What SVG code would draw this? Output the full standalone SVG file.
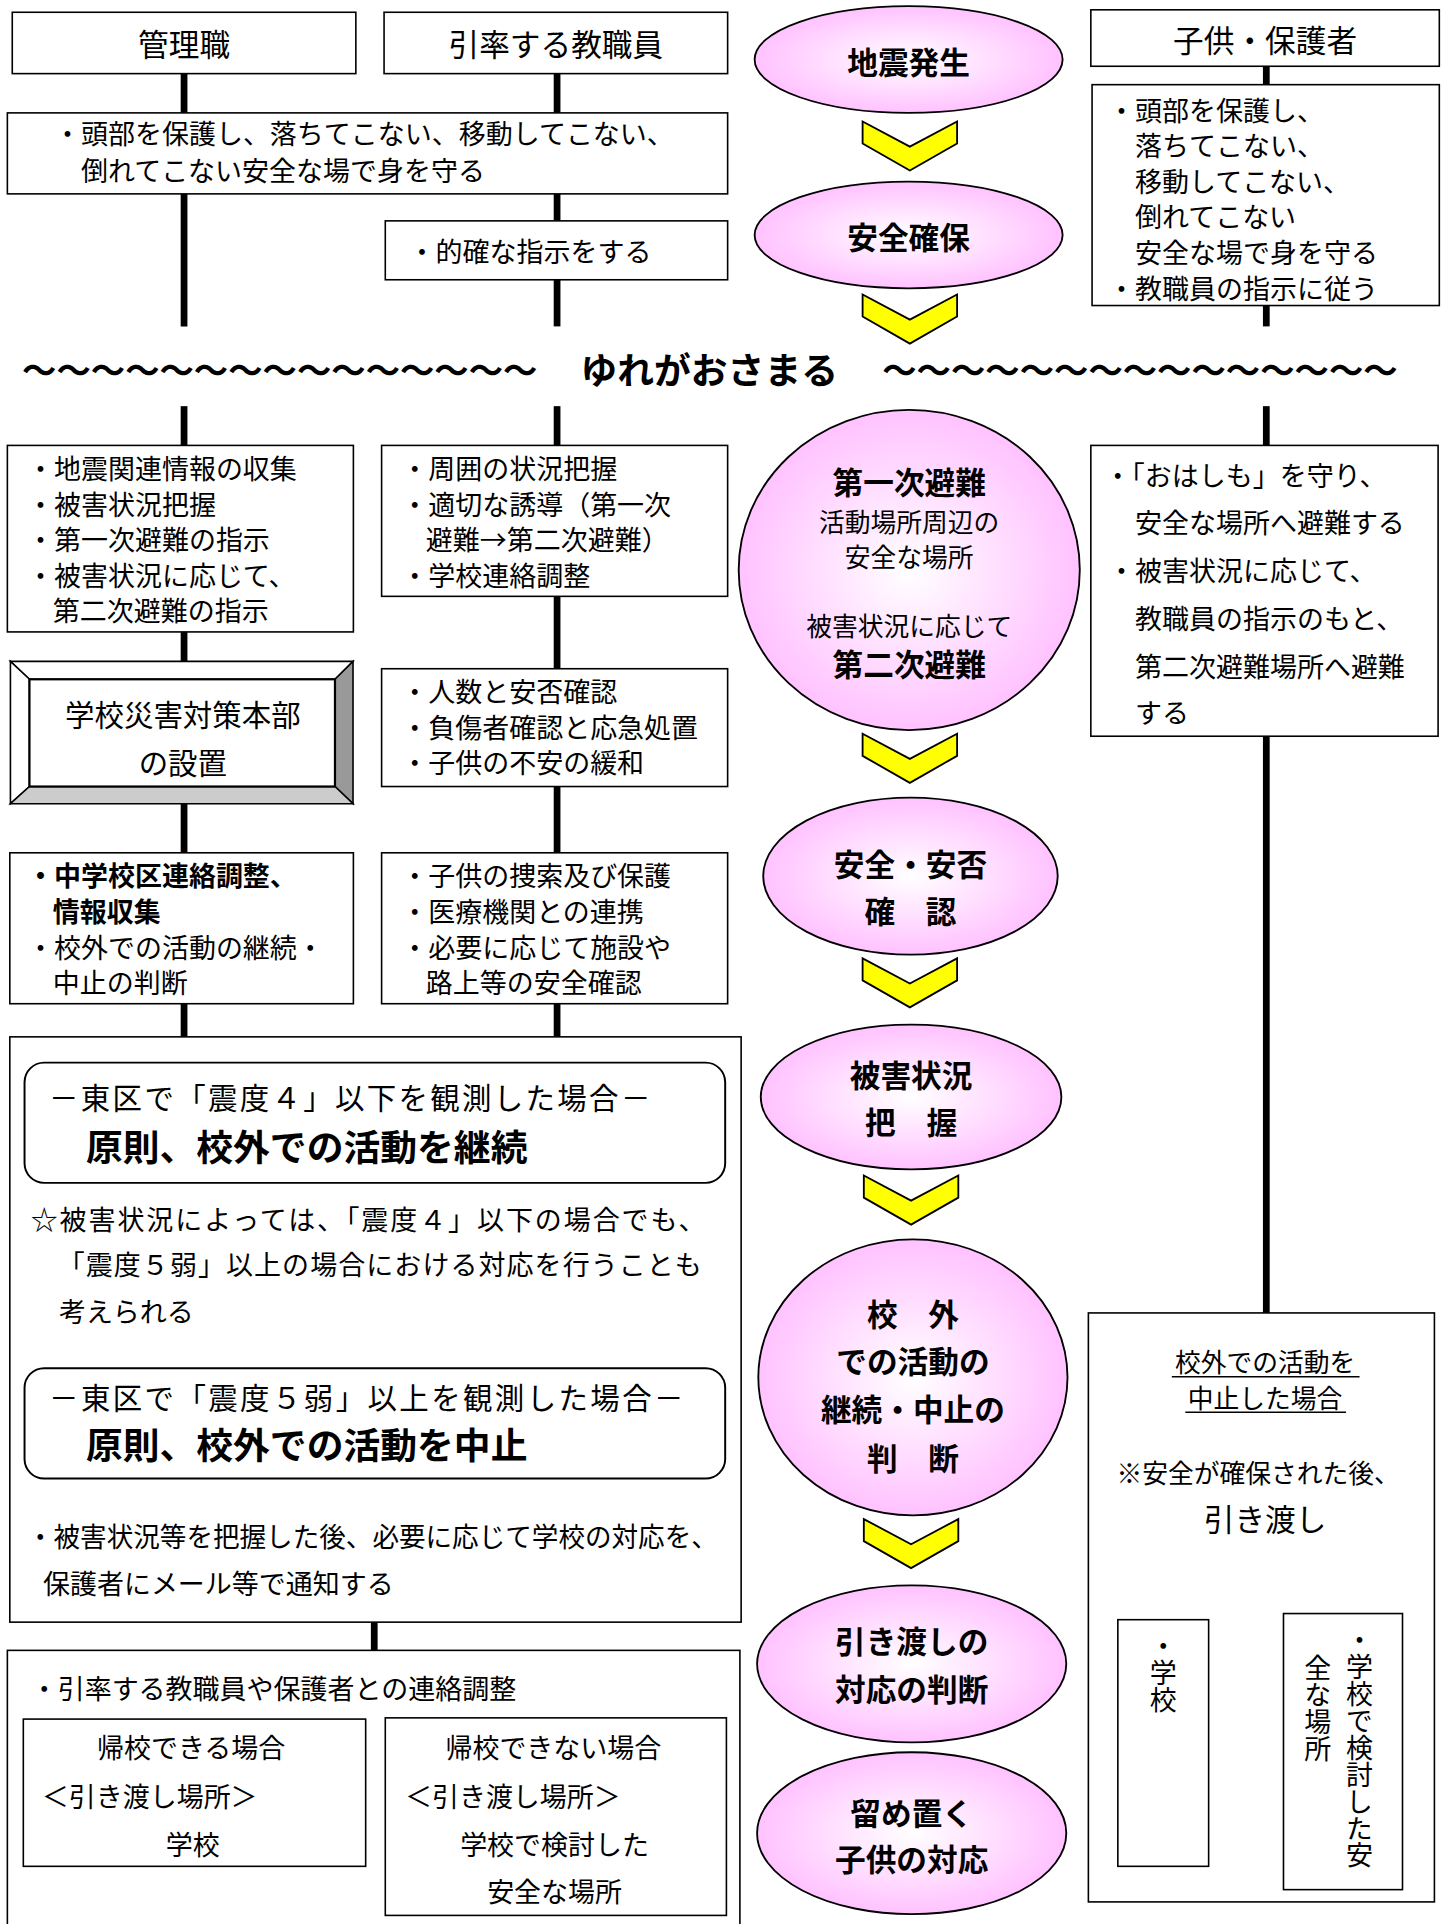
<svg xmlns="http://www.w3.org/2000/svg" width="1443" height="1924" viewBox="0 0 1443 1924">
<defs>
<style>
.bx{fill:#fff;stroke:#000;stroke-width:1.3}
.rr{fill:#fff;stroke:#000;stroke-width:1.6}
.t{font-family:"Noto Sans CJK JP","Noto Sans CJK SC",sans-serif;font-size:22px;fill:#000;dominant-baseline:central}
.hd{font-size:25px;text-anchor:middle}
.mid{text-anchor:middle}
.b{font-weight:bold}
.s21{font-size:21px}
.s24{font-size:24px}
.s25{font-size:25px}
.s28{font-size:28px}
.s30{font-size:30px}
.e{fill:url(#pk);stroke:#000;stroke-width:1.5}
.et{font-family:"Noto Sans CJK JP","Noto Sans CJK SC",sans-serif;font-weight:bold;font-size:25px;text-anchor:middle;dominant-baseline:central;fill:#000}
.es{font-weight:normal;font-size:21px}
.ln{stroke:#000;stroke-width:5.5;fill:none}
.ch{fill:#ffff00;stroke:#000;stroke-width:1.5;stroke-linejoin:miter}
.ul{stroke:#000;stroke-width:1.3}
.vt{writing-mode:vertical-rl;dominant-baseline:auto}
</style>
<radialGradient id="pk" cx="50%" cy="50%" r="50%">
<stop offset="0" stop-color="#ffffff"/>
<stop offset="1" stop-color="#ffc2ff"/>
</radialGradient>
<polygon id="chev" class="ch" points="0,0 38.5,20.5 77,0 77,18 38.5,40 0,18"/>
</defs>
<rect width="1443" height="1924" fill="#fff"/>
<g transform="scale(1.22704)">

<g id="connectors">
<line class="ln" x1="150" y1="60" x2="150" y2="92"/>
<line class="ln" x1="150" y1="158" x2="150" y2="266"/>
<line class="ln" x1="150" y1="331" x2="150" y2="363"/>
<line class="ln" x1="150" y1="515" x2="150" y2="539"/>
<line class="ln" x1="150" y1="655" x2="150" y2="695"/>
<line class="ln" x1="150" y1="818" x2="150" y2="845"/>
<line class="ln" x1="454" y1="60" x2="454" y2="92"/>
<line class="ln" x1="454" y1="158" x2="454" y2="180"/>
<line class="ln" x1="454" y1="228" x2="454" y2="266"/>
<line class="ln" x1="454" y1="331" x2="454" y2="363"/>
<line class="ln" x1="454" y1="486" x2="454" y2="545"/>
<line class="ln" x1="454" y1="641" x2="454" y2="695"/>
<line class="ln" x1="454" y1="818" x2="454" y2="845"/>
<line class="ln" x1="1032" y1="54" x2="1032" y2="69"/>
<line class="ln" x1="1032" y1="249" x2="1032" y2="266"/>
<line class="ln" x1="1032" y1="331" x2="1032" y2="363"/>
<line class="ln" x1="1032" y1="600" x2="1032" y2="1092"/>
<line class="ln" x1="305" y1="1205" x2="305" y2="1229"/>
<line class="ln" x1="305" y1="1308" x2="305" y2="1345"/>
<line class="ln" x1="1032" y1="1265" x2="1032" y2="1293"/>
<path class="ln" d="M935,1320 V1293 H1093 V1315"/>
</g>

<g id="n-kanrishoku">
<rect class="bx" x="10" y="10" width="280" height="50"/>
<text class="t hd" x="150" y="35">管理職</text>
</g>
<g id="n-inritsu">
<rect class="bx" x="313" y="10" width="280" height="50"/>
<text class="t hd" x="453" y="35">引率する教職員</text>
</g>
<g id="n-kodomo">
<rect class="bx" x="889" y="8" width="284" height="46"/>
<text class="t hd" x="1031" y="31">子供・保護者</text>
</g>

<g id="n-atama">
<rect class="bx" x="6" y="92" width="587" height="66"/>
<text class="t" x="44" y="108">・頭部を保護し、落ちてこない、移動してこない、</text>
<text class="t" x="66" y="138">倒れてこない安全な場で身を守る</text>
</g>
<g id="n-shiji">
<rect class="bx" x="314" y="180" width="279" height="48"/>
<text class="t" x="333" y="204">・的確な指示をする</text>
</g>
<g id="n-kodomo-1">
<rect class="bx" x="890" y="69" width="283" height="180"/>
<text class="t" x="903" y="89">・頭部を保護し、</text>
<text class="t" x="925" y="118">落ちてこない、</text>
<text class="t" x="925" y="147">移動してこない、</text>
<text class="t" x="925" y="176">倒れてこない</text>
<text class="t" x="925" y="205">安全な場で身を守る</text>
<text class="t" x="903" y="234">・教職員の指示に従う</text>
</g>

<g id="n-e1">
<ellipse class="e" cx="740.5" cy="48.5" rx="125.5" ry="43.5"/>
<text class="et" x="740.5" y="49">地震発生</text>
</g>
<use href="#chev" x="703" y="99"/>
<g id="n-e2">
<ellipse class="e" cx="740.5" cy="191.5" rx="125.5" ry="43.5"/>
<text class="et" x="740.5" y="192">安全確保</text>
</g>
<use href="#chev" x="703" y="240"/>

<g id="n-yure">
<text class="t b s28" x="18" y="300" textLength="420" lengthAdjust="spacingAndGlyphs">～～～～～～～～～～～～～～～</text>
<text class="t b s30" x="578" y="300" text-anchor="middle">ゆれがおさまる</text>
<text class="t b s28" x="719" y="300" textLength="420" lengthAdjust="spacingAndGlyphs">～～～～～～～～～～～～～～～</text>
</g>

<g id="n-a">
<rect class="bx" x="6" y="363" width="282" height="152"/>
<text class="t" x="22" y="381">・地震関連情報の収集</text>
<text class="t" x="22" y="410">・被害状況把握</text>
<text class="t" x="22" y="439">・第一次避難の指示</text>
<text class="t" x="22" y="468">・被害状況に応じて、</text>
<text class="t" x="43" y="497">第二次避難の指示</text>
</g>
<g id="n-b">
<rect class="bx" x="311" y="363" width="282" height="123"/>
<text class="t" x="327" y="381">・周囲の状況把握</text>
<text class="t" x="327" y="410">・適切な誘導（第一次</text>
<text class="t" x="347" y="439">避難→第二次避難）</text>
<text class="t" x="327" y="468">・学校連絡調整</text>
</g>
<g id="n-e3">
<ellipse class="e" cx="741" cy="464.5" rx="139" ry="130.5"/>
<text class="et" x="741" y="392">第一次避難</text>
<text class="et es" x="741" y="424">活動場所周辺の</text>
<text class="et es" x="741" y="453">安全な場所</text>
<text class="et es" x="741" y="509">被害状況に応じて</text>
<text class="et" x="741" y="540">第二次避難</text>
</g>
<g id="n-d">
<rect class="bx" x="889" y="363" width="283" height="237"/>
<text class="t" x="900" y="387">・「おはしも」を守り、</text>
<text class="t" x="925" y="425">安全な場所へ避難する</text>
<text class="t" x="903" y="464">・被害状況に応じて、</text>
<text class="t" x="925" y="503">教職員の指示のもと、</text>
<text class="t" x="925" y="542">第二次避難場所へ避難</text>
<text class="t" x="925" y="580">する</text>
</g>

<g id="n-honbu">
<polygon points="8.5,539 287.7,539 273,553.6 24,553.6" fill="#fff" stroke="#000" stroke-width="1.3"/>
<polygon points="8.5,539 24,553.6 24,641 8.5,655" fill="#fff" stroke="#000" stroke-width="1.3"/>
<polygon points="287.7,539 287.7,655 273,641 273,553.6" fill="#999" stroke="#000" stroke-width="1.3"/>
<polygon points="8.5,655 24,641 273,641 287.7,655" fill="#ccc" stroke="#000" stroke-width="1.3"/>
<rect x="24" y="553.6" width="249" height="87.4" fill="#fff" stroke="#000" stroke-width="1.8"/>
<text class="t hd s24" x="149" y="581">学校災害対策本部</text>
<text class="t hd s24" x="149" y="620">の設置</text>
</g>
<g id="n-c">
<rect class="bx" x="311" y="545" width="282" height="96"/>
<text class="t" x="327" y="563">・人数と安否確認</text>
<text class="t" x="327" y="592">・負傷者確認と応急処置</text>
<text class="t" x="327" y="621">・子供の不安の緩和</text>
</g>
<use href="#chev" x="703" y="598"/>

<g id="n-e">
<rect class="bx" x="8" y="695" width="280" height="123"/>
<text class="t b" x="22" y="713">・中学校区連絡調整、</text>
<text class="t b" x="43" y="742">情報収集</text>
<text class="t" x="22" y="771">・校外での活動の継続・</text>
<text class="t" x="43" y="800">中止の判断</text>
</g>
<g id="n-f">
<rect class="bx" x="311" y="695" width="282" height="123"/>
<text class="t" x="327" y="713">・子供の捜索及び保護</text>
<text class="t" x="327" y="742">・医療機関との連携</text>
<text class="t" x="327" y="771">・必要に応じて施設や</text>
<text class="t" x="347" y="800">路上等の安全確認</text>
</g>
<g id="n-e4">
<ellipse class="e" cx="742" cy="714" rx="120" ry="64"/>
<text class="et" x="742" y="703">安全・安否</text>
<text class="et" x="742" y="741">確　認</text>
</g>
<use href="#chev" x="703" y="781"/>

<g id="n-g">
<rect class="bx" x="8" y="845" width="596" height="477"/>
<rect class="rr" x="20" y="866" width="571" height="98" rx="16"/>
<text class="t s24" x="40" y="893" textLength="490" lengthAdjust="spacing">－東区で「震度４」以下を観測した場合－</text>
<text class="t b s30" x="70" y="933">原則、校外での活動を継続</text>
<text class="t" x="25" y="993" textLength="550" lengthAdjust="spacing">☆被害状況によっては、「震度４」以下の場合でも、</text>
<text class="t" x="47" y="1030" textLength="525" lengthAdjust="spacing">「震度５弱」以上の場合における対応を行うことも</text>
<text class="t" x="48" y="1068">考えられる</text>
<rect class="rr" x="20" y="1115" width="571" height="90" rx="16"/>
<text class="t s24" x="40" y="1138" textLength="517" lengthAdjust="spacing">－東区で「震度５弱」以上を観測した場合－</text>
<text class="t b s30" x="70" y="1176">原則、校外での活動を中止</text>
<text class="t" x="22" y="1251" textLength="563" lengthAdjust="spacingAndGlyphs">・被害状況等を把握した後、必要に応じて学校の対応を、</text>
<text class="t" x="35" y="1290">保護者にメール等で通知する</text>
</g>
<g id="n-e5">
<ellipse class="e" cx="742.5" cy="894" rx="122.5" ry="59"/>
<text class="et" x="742.5" y="875">被害状況</text>
<text class="et" x="742.5" y="913">把　握</text>
</g>
<use href="#chev" x="704" y="958"/>
<g id="n-e6">
<ellipse class="e" cx="744" cy="1122.5" rx="126" ry="112.5"/>
<text class="et" x="744" y="1070">校　外</text>
<text class="et" x="744" y="1108">での活動の</text>
<text class="et" x="744" y="1147">継続・中止の</text>
<text class="et" x="744" y="1187">判　断</text>
</g>
<use href="#chev" x="704" y="1238"/>
<g id="n-e7">
<ellipse class="e" cx="743" cy="1356" rx="126" ry="64"/>
<text class="et" x="743" y="1336">引き渡しの</text>
<text class="et" x="743" y="1375">対応の判断</text>
</g>
<g id="n-e8">
<ellipse class="e" cx="743" cy="1494" rx="126" ry="66"/>
<text class="et" x="743" y="1476">留め置く</text>
<text class="et" x="743" y="1514">子供の対応</text>
</g>

<g id="n-h">
<rect class="bx" x="6" y="1345" width="597" height="240"/>
<text class="t" x="25" y="1375">・引率する教職員や保護者との連絡調整</text>
<rect class="bx" x="19" y="1401" width="279" height="120"/>
<text class="t" x="79" y="1423">帰校できる場合</text>
<text class="t" x="34" y="1463">＜引き渡し場所＞</text>
<text class="t" x="135" y="1502">学校</text>
<rect class="bx" x="314" y="1400" width="278" height="161"/>
<text class="t" x="363" y="1423">帰校できない場合</text>
<text class="t" x="330" y="1463">＜引き渡し場所＞</text>
<text class="t" x="375" y="1502">学校で検討した</text>
<text class="t" x="397" y="1541">安全な場所</text>
</g>

<g id="n-i">
<rect class="bx" x="887" y="1070" width="282" height="480"/>
<text class="t mid s21" x="1031" y="1109">校外での活動を</text>
<line class="ul" x1="955" y1="1122" x2="1108" y2="1122"/>
<text class="t mid s21" x="1031" y="1138">中止した場合</text>
<line class="ul" x1="966" y1="1151" x2="1097" y2="1151"/>
<text class="t s21" x="910" y="1199">※安全が確保された後、</text>
<text class="t mid s25" x="1031" y="1237">引き渡し</text>
<rect class="bx" x="911" y="1320" width="74" height="201"/>
<text class="t vt" x="948" y="1330">・学校</text>
<rect class="bx" x="1046" y="1315" width="97" height="225"/>
<text class="t vt" x="1108" y="1325">・学校で検討した安</text>
<text class="t vt" x="1074" y="1348">全な場所</text>
</g>

</g>
</svg>
